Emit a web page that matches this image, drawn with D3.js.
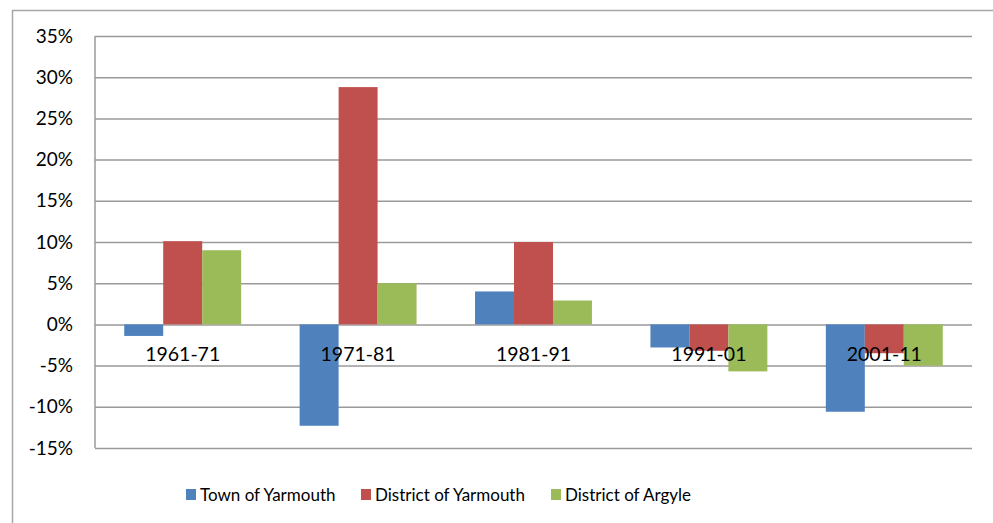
<!DOCTYPE html>
<html><head><meta charset="utf-8">
<script src="https://cdn.jsdelivr.net/npm/d3@7"></script>
<style>
body { margin: 0; background: #fff; }
text { font-family: Lato, "Liberation Sans", sans-serif; fill: #000; }
</style></head>
<body><svg id="chart" width="993" height="523"></svg>
<script>
// data
var categories = [ "1961-71", "1971-81", "1981-91", "1991-01", "2001-11" ];
var seriesNames = [ "Town of Yarmouth", "District of Yarmouth", "District of Argyle" ];
var townYarmouth = [ -1.4, -12.3, 4.0, -2.8, -10.6 ];
var districtYarmouth = [ 10.1, 28.8, 10.0, -3.2, -3.5 ];
var districtArgyle = [ 9.0, 5.0, 2.9, -5.7, -5.0 ];
var yTicks = [ -15, -10, -5, 0, 5, 10, 15, 20, 25, 30, 35 ];

var COLORS = [ "#4f81bd", "#c0504d", "#9bbb59" ];
var GRID = "#9a9a9a";

var svg = d3.select("#chart");

// outer chart border
svg.append("rect") //
.attr("x", 12.5).attr("y", 10.5) //
.attr("width", 1000).attr("height", 600) //
.attr("fill", "none").attr("stroke", "#a6a6a6").attr("stroke-width", 1.5);

var plot = { left: 95, right: 972, top: 36, bottom: 448 };

var y = d3.scaleLinear().domain([ -15, 35 ]).range([ plot.bottom, plot.top ]);

var x0 = d3.scaleBand().domain(categories) //
.range([ plot.left, plot.right ]) //
.paddingInner(1.5 / 4.5).paddingOuter(0.75 / 4.5);

var x1 = d3.scaleBand().domain(d3.range(seriesNames.length)) //
.range([ 0, x0.bandwidth() ]);

// gridlines + y labels
var yAxis = d3.axisLeft(y).tickValues(yTicks) //
.tickSize(-(plot.right - plot.left)) //
.tickPadding(22) //
.tickFormat(function(d) {
	return d + "%";
});

var gy = svg.append("g").attr("transform", "translate(" + plot.left + ",0)").call(yAxis);
gy.select(".domain").remove();
gy.selectAll(".tick line").attr("stroke", GRID).attr("stroke-width", 1.5);
gy.selectAll(".tick text") //
.style("font-size", "19px") //
.style("font-family", "Lato, sans-serif") //
.attr("fill", "#000");

// left axis line
svg.append("line") //
.attr("x1", plot.left).attr("x2", plot.left) //
.attr("y1", plot.top).attr("y2", plot.bottom) //
.attr("stroke", GRID).attr("stroke-width", 1.5);

// bars
var rows = categories.map(function(c, i) {
	return [ townYarmouth[i], districtYarmouth[i], districtArgyle[i] ];
});

var groups = svg.append("g").selectAll("g").data(rows).enter().append("g") //
.attr("transform", function(d, i) {
	return "translate(" + x0(categories[i]) + ",0)";
});

groups.selectAll("rect").data(function(d) {
	return d;
}).enter().append("rect") //
.attr("x", function(d, j) {
	return x1(j);
}) //
.attr("y", function(d) {
	return y(Math.max(0, d));
}) //
.attr("width", x1.bandwidth()) //
.attr("height", function(d) {
	return Math.abs(y(d) - y(0));
}) //
.attr("fill", function(d, j) {
	return COLORS[j];
});

// category labels sit just below the zero line
svg.append("g").selectAll("text").data(categories).enter().append("text") //
.attr("x", function(d) {
	return x0(d) + x0.bandwidth() / 2;
}) //
.attr("y", y(0) + 37) //
.attr("text-anchor", "middle") //
.style("font-size", "19.5px") //
.text(function(d) {
	return d;
});

// legend
var legendX = [ 186, 361, 551 ];
var legend = svg.append("g").selectAll("g").data(seriesNames).enter().append("g") //
.attr("transform", function(d, i) {
	return "translate(" + legendX[i] + ",489)";
});

legend.append("rect") //
.attr("width", 10).attr("height", 11) //
.attr("fill", function(d, i) {
	return COLORS[i];
});

legend.append("text") //
.attr("x", 14).attr("y", 11.5) //
.style("font-size", "17px") //
.text(function(d) {
	return d;
});
</script></body></html>
